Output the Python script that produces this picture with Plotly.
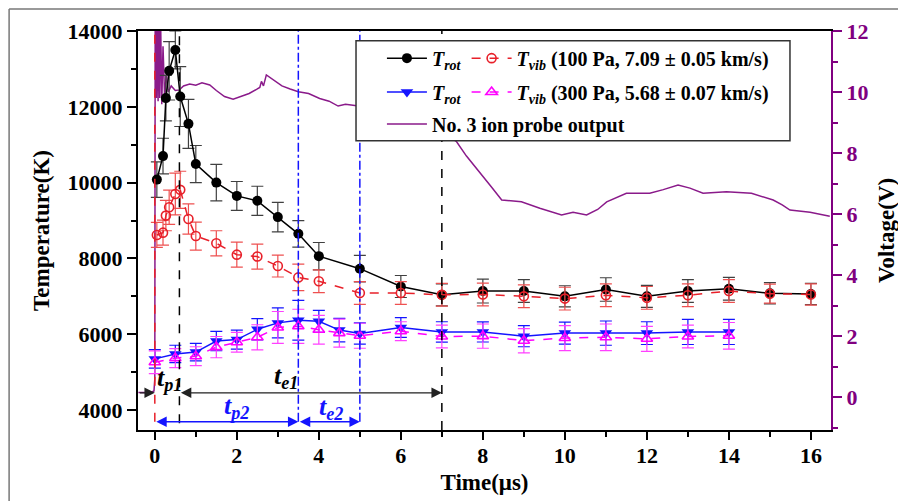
import plotly.graph_objects as go

# ---------------- data ----------------
t100 = [0.05, 0.2, 0.27, 0.35, 0.5, 0.62, 0.82, 1.0, 1.5, 2, 2.5, 3, 3.5, 4, 5, 6, 7, 8, 9, 10, 11, 12, 13, 14, 15, 16]
trot100 = [10080, 10700, 12230, 12950, 13500, 12270, 11550, 10490, 10000, 9650, 9520, 9090, 8650, 8060, 7730, 7260,
           7040, 7140, 7140, 7000, 7180, 7000, 7140, 7200, 7080, 7060]
trot100_err = [470, 470, 600, 770, 500, 790, 645, 490, 480, 380, 385, 390, 350, 360, 350, 290, 290, 315, 300, 280,
               310, 290, 300, 300, 280, 280]
tvib100 = [8620, 8680, 9130, 9350, 9700, 9810, 9040, 8590, 8400, 8100, 8050, 7800, 7500, 7400, 7090, 7090, 7040,
           7050, 7000, 6940, 7030, 6960, 7030, 7140, 7070, 7050]
tvib100_err = [330, 330, 400, 450, 550, 490, 400, 370, 330, 330, 330, 290, 350, 300, 300, 300, 300, 300, 300, 300,
               300, 300, 300, 300, 250, 280]

t300 = [0, 0.5, 1, 1.5, 2, 2.5, 3, 3.5, 4, 4.5, 5, 6, 7, 8, 9, 10, 11, 12, 13, 14]
trot300 = [5350, 5480, 5530, 5820, 5860, 6130, 6300, 6370, 6340, 6110, 6020, 6180, 6060, 6060, 5950, 6030, 6030,
           6030, 6060, 6060]
trot300_err = [245, 230, 230, 255, 250, 280, 395, 525, 290, 310, 280, 260, 270, 265, 280, 290, 320, 300, 330, 330]
tvib300 = [5260, 5370, 5420, 5660, 5790, 5920, 6180, 6210, 6120, 6030, 5960, 6080, 5940, 5950, 5830, 5900, 5920,
           5880, 5940, 5960]
tvib300_err = [300, 250, 250, 280, 260, 330, 420, 450, 380, 370, 330, 250, 300, 320, 320, 330, 350, 330, 300, 350]

probe_t = [-0.4, -0.1, -0.02, 0.0, 0.01, 0.04, 0.06, 0.08, 0.1, 0.12, 0.14, 0.17, 0.2, 0.24, 0.28, 0.33, 0.4, 0.5,
           0.6, 0.7, 0.85, 1.0, 1.15, 1.34, 1.5, 1.7, 1.91, 2.1, 2.3, 2.5, 2.56, 2.6, 2.65, 2.72, 2.89, 3.1, 3.3, 3.5,
           3.75, 4.02, 4.25, 4.47, 4.65, 4.83, 5.2, 5.7, 6.3, 6.9, 7.36, 7.6, 7.93, 8.2, 8.46, 8.94, 9.39, 9.92,
           10.2, 10.53, 10.8, 11.02, 11.5, 12.07, 12.4, 12.76, 13.05, 13.37, 13.94, 14.55, 15.08, 15.3, 15.49,
           15.98, 16.46]
probe_v = [0.15, 0.15, 0.2, 0.6, 13.5, 9.8, 13.5, 9.7, 13.5, 9.8, 12.5, 9.6, 11.5, 9.8, 10.6, 10.0, 10.2, 10.05,
           10.07, 10.2, 10.26, 10.22, 10.3, 10.23, 10.05, 9.85, 9.76, 9.85, 9.95, 10.1, 10.15, 10.35, 10.2, 10.56,
           10.39, 10.2, 10.1, 10.01, 9.95, 9.79, 9.7, 9.54, 9.6, 9.57, 9.5, 9.3, 9.1, 8.8, 8.37, 7.9, 7.33, 6.9,
           6.46, 6.40, 6.19, 5.97, 6.06, 5.97, 6.15, 6.40, 6.68, 6.68, 6.8, 6.95, 6.85, 6.68, 6.73, 6.68, 6.46, 6.3,
           6.13, 6.06, 5.93]

# phase boundaries (µs) and arrow levels (K)
phase_t = [0, 0.6, 3.5, 5, 7]
arrow_level_black = 4455
arrow_level_blue = 3692

x_ticks = [0, 2, 4, 6, 8, 10, 12, 14, 16]
temp_ticks = [4000, 6000, 8000, 10000, 12000, 14000]
volt_ticks = [0, 2, 4, 6, 8, 10, 12]

FONT = "Liberation Serif"
PURPLE = "#800080"
RED = "#e8202a"
BLUE = "#1414ff"
MAG = "#ff00ff"

fig = go.Figure()

# ion probe output on primary y (voltage, right side) so it is drawn below temperature data
fig.add_trace(go.Scatter(x=probe_t, y=probe_v, mode="lines", line=dict(color="#8a1a8a", width=1.5),
                         name="No. 3 ion probe output", yaxis="y", legend="legend3"))

def err(arr, color):
    return dict(type="data", array=arr, visible=True, color=color, thickness=1.2, width=6)

fig.add_trace(go.Scatter(x=t100, y=trot100, yaxis="y2", mode="lines+markers",
                         line=dict(color="black", width=1.5),
                         marker=dict(symbol="circle", size=10, color="black"),
                         error_y=err(trot100_err, "#404040"),
                         name="<i>T</i><sub><i>rot</i></sub>", legend="legend"))
fig.add_trace(go.Scatter(x=t100, y=tvib100, yaxis="y2", mode="lines+markers",
                         line=dict(color=RED, width=1.5, dash="dash"),
                         marker=dict(symbol="circle-open", size=9, color=RED, line=dict(width=1.6)),
                         error_y=err(tvib100_err, "#ee5050"),
                         name="<i>T</i><sub><i>vib</i></sub> (100 Pa, 7.09 ± 0.05 km/s)", legend="legend"))
fig.add_trace(go.Scatter(x=t300, y=trot300, yaxis="y2", mode="lines+markers",
                         line=dict(color=BLUE, width=1.5),
                         marker=dict(symbol="triangle-down", size=11, color=BLUE),
                         error_y=err(trot300_err, BLUE),
                         name="<i>T</i><sub><i>rot</i></sub>", legend="legend2"))
fig.add_trace(go.Scatter(x=t300, y=tvib300, yaxis="y2", mode="lines+markers",
                         line=dict(color=MAG, width=1.5, dash="dash"),
                         marker=dict(symbol="triangle-up-open", size=10, color=MAG, line=dict(width=1.6)),
                         error_y=err(tvib300_err, "#ff40ff"),
                         name="<i>T</i><sub><i>vib</i></sub> (300 Pa, 5.68 ± 0.07 km/s)", legend="legend2"))

shapes = []
# vertical phase lines
shapes.append(dict(type="line", xref="x", yref="y2", x0=phase_t[0], x1=phase_t[0], y0=arrow_level_blue, y1=14000,
                   line=dict(color=RED, width=1.5, dash="dash"), layer="above"))
shapes.append(dict(type="line", xref="x", yref="y2", x0=phase_t[1], x1=phase_t[1], y0=3650, y1=14000,
                   line=dict(color="black", width=1.5, dash="dash"), layer="above"))
for tt in (phase_t[2], phase_t[3]):
    shapes.append(dict(type="line", xref="x", yref="y2", x0=tt, x1=tt, y0=arrow_level_blue, y1=14000,
                       line=dict(color=BLUE, width=1.5, dash="dashdot"), layer="above"))
shapes.append(dict(type="line", xref="x", yref="paper", x0=phase_t[4], x1=phase_t[4], y0=0, y1=1,
                   line=dict(color="black", width=1.5, dash="dash"), layer="above"))
# legend box
shapes.append(dict(type="rect", xref="paper", yref="paper", x0=0.3146, x1=0.9408, y0=0.7251, y1=0.9757,
                   fillcolor="white", line=dict(color="#333", width=1.5), layer="above"))
# figure frame
shapes.append(dict(type="line", xref="paper", yref="paper", x0=-0.186, x1=1.2, y0=1.0551, y1=1.0551,
                   line=dict(color="#777", width=1.5)))
shapes.append(dict(type="line", xref="paper", yref="paper", x0=-0.186, x1=-0.186, y0=-0.2, y1=1.0551,
                   line=dict(color="#777", width=1.5)))

annotations = []
def arrow(x0, x1, y, color, both=True):
    annotations.append(dict(x=x1, y=y, ax=x0, ay=y, xref="x", yref="y2", axref="x", ayref="y2", text="",
                            showarrow=True, arrowhead=2, arrowsize=1.6, arrowwidth=1.3, arrowcolor=color,
                            arrowside="end+start" if both else "end", standoff=0, startstandoff=0))

arrow(-0.4, phase_t[0], arrow_level_black, "#222", both=False)
arrow(phase_t[1], phase_t[4], arrow_level_black, "#222")
arrow(phase_t[0], phase_t[2], arrow_level_blue, BLUE)
arrow(phase_t[2], phase_t[3], arrow_level_blue, BLUE)

def label(x, y, sub, color):
    annotations.append(dict(x=x, y=y, xref="x", yref="y2", showarrow=False,
                            text="<b><i>t</i></b><sub><b><i>%s</i></b></sub>" % sub,
                            font=dict(family=FONT, size=26, color=color)))

label(0.35, 4830, "p1", "black")
label(3.2, 4860, "e1", "black")
label(2.0, 4070, "p2", BLUE)
label(4.3, 4050, "e2", BLUE)

legend_common = dict(orientation="h", xanchor="left", yanchor="middle", bgcolor="rgba(0,0,0,0)",
                     font=dict(family=FONT, size=20, color="black", weight="bold"), itemwidth=40,
                     tracegroupgap=0)

# the page body adds an 8 px offset, so the figure is 8 px smaller and margins shifted accordingly
fig.update_layout(
    width=898, height=493,
    margin=dict(l=130, r=75, t=23, b=71),
    paper_bgcolor="white", plot_bgcolor="white",
    font=dict(family=FONT, color="black", weight="bold"),
    shapes=shapes, annotations=annotations,
    legend=dict(x=0.352, y=0.932, **legend_common),
    legend2=dict(x=0.352, y=0.847, **legend_common),
    legend3=dict(x=0.352, y=0.767, **legend_common),
    xaxis=dict(range=[-0.41, 16.49], tickvals=x_ticks, showgrid=False, zeroline=False, automargin=False,
               showline=True, linecolor="black", linewidth=2, mirror=True,
               ticks="outside", ticklen=8, tickwidth=2, tickcolor="black", ticklabelstandoff=-3,
               minor=dict(dtick=1, tick0=0, ticks="outside", ticklen=5, tickwidth=2, tickcolor="black"),
               tickfont=dict(family=FONT, size=22, color="black", weight="bold"),
               title=dict(text="Time(μs)", font=dict(family=FONT, size=23, color="black", weight="bold"), standoff=6)),
    yaxis=dict(range=[-1.08, 12], side="right", tickvals=volt_ticks, showgrid=False, zeroline=False, automargin=False,
               showline=True, linecolor=PURPLE, linewidth=2,
               ticks="outside", ticklen=9, tickwidth=2, tickcolor=PURPLE,
               minor=dict(dtick=1, tick0=0, ticks="outside", ticklen=5, tickwidth=2, tickcolor=PURPLE),
               tickfont=dict(family=FONT, size=22, color=PURPLE, weight="bold"),
               title=dict(text="Voltage(V)", font=dict(family=FONT, size=23, color="black", weight="bold"), standoff=10)),
    yaxis2=dict(range=[3474, 14000], side="left", overlaying="y", tickvals=temp_ticks, tickformat="d",
                showgrid=False, zeroline=False, automargin=False,
                showline=True, linecolor="black", linewidth=2,
                ticks="outside", ticklen=9, tickwidth=2, tickcolor="black",
                minor=dict(dtick=1000, tick0=0, ticks="outside", ticklen=5, tickwidth=2, tickcolor="black"),
                tickfont=dict(family=FONT, size=22, color="black", weight="bold"),
                title=dict(text="Temperature(K)", font=dict(family=FONT, size=23, color="black", weight="bold"), standoff=12)),
)

fig.write_html("out.html")
